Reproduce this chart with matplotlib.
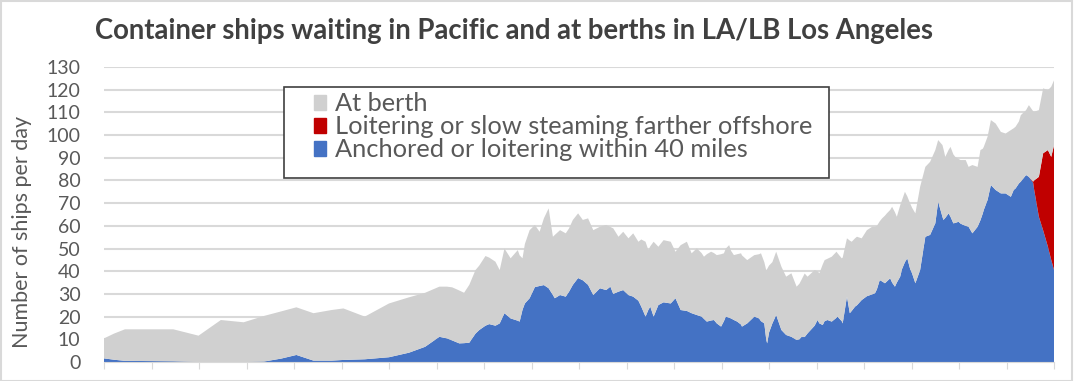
import matplotlib
matplotlib.use("Agg")
import matplotlib.pyplot as plt
from matplotlib.patches import Patch, Rectangle
import numpy as np

plt.rcParams['font.family'] = ['Lato', 'DejaVu Sans']

# x = months since start of the series
months = [0.00, 0.21, 0.44, 0.97, 1.46, 1.99, 2.46, 2.94, 3.37, 3.73, 4.05, 4.41, 4.79, 5.04,
          5.49, 6.00, 6.42, 6.76, 7.06, 7.22, 7.33, 7.48, 7.58, 7.69, 7.82, 7.90, 8.03, 8.11,
          8.24, 8.33, 8.43, 8.56, 8.71, 8.75, 8.81, 8.86, 8.96, 9.07, 9.17, 9.26, 9.36, 9.45,
          9.49, 9.60, 9.72, 9.79, 9.87, 9.98, 10.08, 10.19, 10.30, 10.44, 10.57, 10.66, 10.72,
          10.83, 10.93, 11.04, 11.14, 11.25, 11.31, 11.40, 11.46, 11.50, 11.57, 11.67, 11.78,
          11.93, 12.03, 12.14, 12.27, 12.37, 12.48, 12.58, 12.63, 12.69, 12.78, 12.84, 12.90,
          12.99, 13.05, 13.09, 13.16, 13.20, 13.26, 13.33, 13.41, 13.43, 13.54, 13.69, 13.79,
          13.83, 13.90, 13.94, 13.96, 14.00, 14.07, 14.15, 14.26, 14.36, 14.47, 14.58, 14.64,
          14.68, 14.75, 14.81, 14.96, 15.02, 15.06, 15.13, 15.17, 15.23, 15.32, 15.42, 15.44,
          15.53, 15.55, 15.64, 15.70, 15.74, 15.81, 15.85, 15.95, 16.06, 16.17, 16.23, 16.27,
          16.33, 16.38, 16.44, 16.48, 16.55, 16.59, 16.65, 16.69, 16.76, 16.80, 16.86, 16.91,
          16.97, 17.01, 17.08, 17.18, 17.29, 17.39, 17.50, 17.56, 17.65, 17.67, 17.71, 17.78,
          17.82, 17.88, 17.92, 17.99, 18.03, 18.09, 18.14, 18.20, 18.28, 18.39, 18.45, 18.50,
          18.52, 18.60, 18.67, 18.77, 18.88, 18.98, 19.09, 19.15, 19.19, 19.26, 19.30, 19.41,
          19.47, 19.56, 19.58, 19.68, 19.77, 19.87, 19.94, 20.00]

# Total ships per day (top of the stack)
total = [10.4, 12.5, 14.4, 14.4, 14.4, 11.6, 18.5, 17.5, 20.3, 22.3, 24.1, 21.5, 22.9, 23.6,
         20.0, 25.8, 28.5, 30.5, 33.2, 33.2, 32.9, 31.5, 30.5, 34.0, 40.5, 42.5, 46.7, 46.0,
         44.2, 40.5, 50.0, 45.7, 49.3, 47.0, 45.7, 52.0, 58.1, 60.4, 57.4, 63.3, 67.7, 55.2,
         56.0, 58.1, 56.7, 58.9, 62.6, 65.5, 62.6, 63.3, 58.1, 59.6, 60.4, 59.5, 58.9,
         55.2, 57.4, 54.5, 56.7, 53.0, 54.0, 53.0, 49.3, 51.0, 53.0, 50.8, 53.7,
         53.0, 48.6, 51.5, 53.0, 47.9, 50.1, 48.0, 46.4, 47.5, 48.6, 48.0, 47.1,
         47.5, 47.9, 50.0, 51.5, 49.0, 47.1, 47.5, 47.9, 47.0, 44.9, 47.1, 47.5,
         47.9, 44.0, 40.5, 41.0, 42.5, 44.0, 48.6, 42.0, 37.6, 39.1, 33.2, 34.5,
         36.1, 39.0, 37.6, 40.5, 40.0, 39.1, 43.0, 44.9, 45.5, 46.4, 48.6, 48.0,
         45.7, 46.0, 54.5, 53.5, 53.0, 54.5, 55.2, 54.5, 58.1, 59.6, 59.6, 60.0,
         62.0, 63.3, 64.5, 65.5, 67.0, 68.4, 66.0, 64.0, 69.0, 71.4, 75.0, 73.0,
         69.9, 68.0, 65.5, 77.2, 86.0, 88.2, 93.4, 97.8, 95.6, 94.0, 90.4, 93.5,
         94.8, 91.5, 90.4, 89.5, 89.0, 89.0, 89.0, 86.0, 86.8, 86.0, 93.4, 94.0,
         94.8, 99.3, 106.6, 105.1, 101.4, 100.7, 102.2, 103.0, 103.7, 106.0, 108.8, 111.0,
         113.2, 110.5, 110.3, 111.0, 120.6, 119.8, 121.3, 124.2]

# Anchored or loitering within 40 miles
anchored = [1.6, 1.0, 0.5, 0.4, 0.3, 0.0, 0.0, 0.0, 0.2, 1.5, 3.1, 0.6, 0.6, 0.9,
            1.2, 2.1, 4.1, 6.7, 11.1, 10.4, 9.5, 8.2, 8.3, 8.5, 12.5, 14.1, 16.0, 16.7,
            16.0, 17.0, 21.5, 19.2, 18.2, 17.8, 23.0, 25.8, 28.1, 33.0, 33.5, 33.9, 32.5, 29.5,
            28.1, 29.5, 28.8, 31.0, 34.0, 37.0, 36.0, 34.0, 29.5, 32.5, 31.7, 33.2, 30.0,
            31.0, 31.7, 29.5, 28.8, 27.0, 24.4, 20.0, 23.0, 24.4, 20.0, 25.1, 26.3,
            25.8, 28.1, 22.9, 22.5, 21.5, 20.7, 20.0, 19.0, 17.8, 18.3, 18.5, 17.0,
            15.6, 18.0, 20.0, 19.5, 19.2, 18.5, 17.8, 16.5, 15.6, 17.0, 20.0, 19.2,
            18.0, 17.0, 10.0, 8.2, 13.0, 17.0, 20.7, 14.1, 11.9, 11.1, 9.7, 10.0,
            11.0, 11.0, 12.6, 16.0, 18.5, 17.0, 16.3, 18.0, 18.5, 17.8, 19.5, 20.0,
            18.0, 17.0, 28.8, 21.5, 22.5, 24.4, 25.0, 27.3, 29.0, 29.8, 30.3, 32.0,
            36.1, 35.5, 34.7, 35.5, 36.9, 35.0, 33.2, 35.0, 37.6, 41.0, 44.0, 45.7,
            41.0, 39.1, 34.7, 40.5, 55.2, 56.0, 61.1, 70.6, 64.0, 62.6, 63.5, 65.5,
            64.0, 61.1, 61.3, 61.8, 61.0, 60.4, 60.0, 59.6, 56.7, 59.6, 62.5, 65.5,
            67.0, 71.4, 78.0, 75.8, 74.3, 74.3, 72.8, 75.8, 76.5, 78.7, 79.5, 82.4,
            81.6, 79.0, 76.0, 64.0, 58.0, 50.8, 45.0, 40.5]

# Loitering or slow steaming farther offshore (only at the very end)
loitering = [0.0] * 176 + [0.5, 4.0, 17.6, 34.0, 42.6, 45.4, 55.1]

x = np.array(months)
blue = np.array(anchored)
red = np.array(loitering)
at_berth = np.array(total) - blue - red

fig = plt.figure(figsize=(10.8, 3.81), dpi=100)
ax = fig.add_axes([0.0963, 0.0499, 0.8797, 0.7742])

ax.stackplot(x, blue, red, at_berth, colors=['#4472c4', '#c00000', '#d0d0d0'], linewidth=0)

ax.set_xlim(0, 20)
ax.set_ylim(0, 130)
ax.set_yticks(range(0, 131, 10))
ax.set_xticks(range(0, 21))
ax.set_xticklabels([])
ax.yaxis.grid(True, color='#d9d9d9', linewidth=1.5)
ax.set_axisbelow(True)
for s in ['top', 'right', 'left']:
    ax.spines[s].set_visible(False)
ax.spines['bottom'].set_color('#d9d9d9')
ax.tick_params(axis='y', length=0, labelsize=14, labelcolor='#595959', pad=17)
ax.tick_params(axis='x', length=5, color='#d9d9d9')
ax.set_ylabel('Number of ships per day', fontsize=15.5, color='#595959')
ax.yaxis.set_label_coords(-0.076, 0.44)

fig.text(0.088, 0.918, 'Container ships waiting in Pacific and at berths in LA/LB Los Angeles',
         fontsize=19.8, fontweight='bold', color='#404040', va='center')

# legend box drawn separately so its size matches the original
fig.patches.append(Rectangle((0.263, 0.533), 0.505, 0.239, transform=fig.transFigure,
                             facecolor='white', edgecolor='#404040', linewidth=1.2, zorder=5))
handles = [Patch(color='#d0d0d0', label='At berth'),
           Patch(color='#c00000', label='Loitering or slow steaming farther offshore'),
           Patch(color='#4472c4', label='Anchored or loitering within 40 miles')]
leg = fig.legend(handles=handles, loc='upper left', bbox_to_anchor=(0.288, 0.764),
                 fontsize=18.3, frameon=False, handlelength=0.5, handleheight=0.55,
                 handletextpad=0.33, labelspacing=0.0, borderpad=0.1, borderaxespad=0)
leg.set_zorder(6)
for t in leg.get_texts():
    t.set_color('#595959')

fig.patches.append(Rectangle((0.001, 0.0), 0.992, 0.997, transform=fig.transFigure,
                             fill=False, edgecolor='#d9d9d9', linewidth=1.5))

fig.savefig('out.png', dpi=100)
